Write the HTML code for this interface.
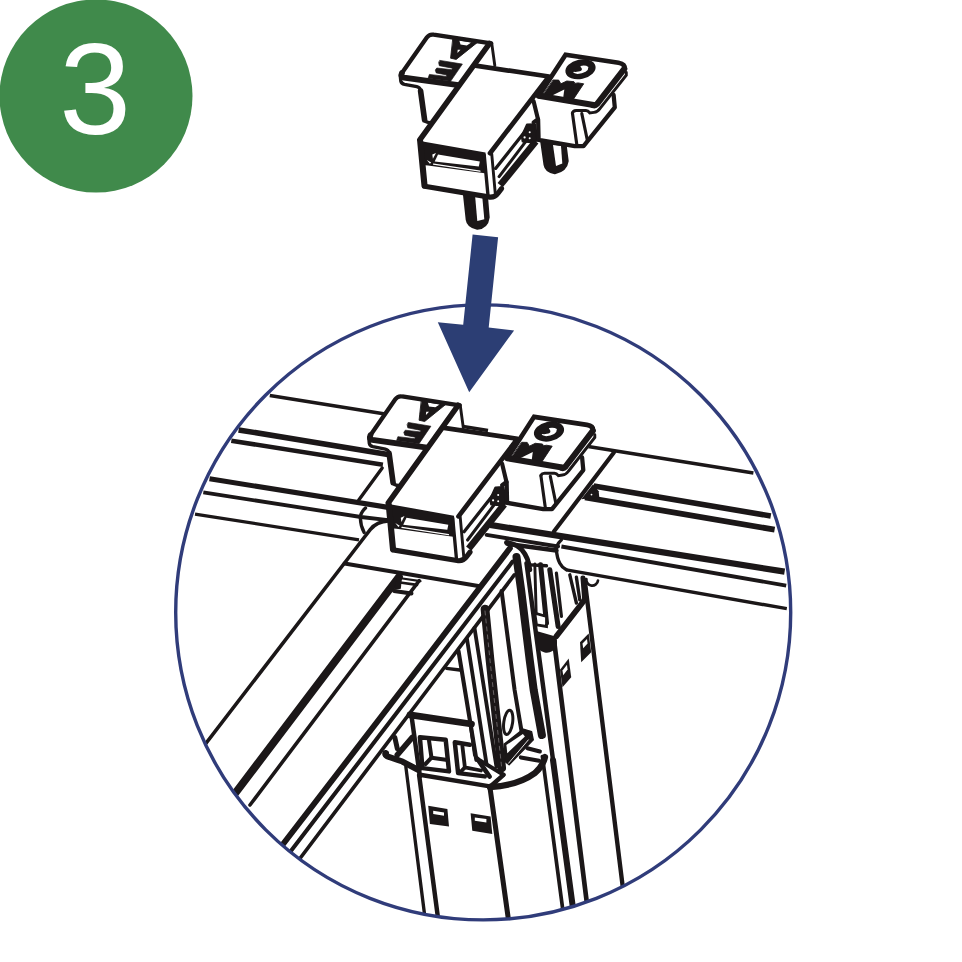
<!DOCTYPE html>
<html><head><meta charset="utf-8"><style>
html,body{margin:0;padding:0;background:#fff}
body{width:962px;height:962px;overflow:hidden;font-family:"Liberation Sans",sans-serif}
svg{display:block}
</style></head><body>
<svg width="962" height="962" viewBox="0 0 962 962" stroke-linecap="round">
<defs>
<clipPath id="cc"><circle cx="483.2" cy="612.4" r="306.8"/></clipPath>
</defs>
<rect width="962" height="962" fill="#fff"/>
<circle cx="96" cy="96" r="96.5" fill="#408a4b"/>
<text x="95" y="134.3" style="font-family:'Liberation Sans',sans-serif" font-size="129" fill="#fff" text-anchor="middle">3</text>
<g clip-path="url(#cc)">
<polyline points="269.8,395.6 488.0,430.5" fill="none" stroke="#1b1718" stroke-width="3.58" stroke-linecap="butt"/>
<polyline points="585.0,445.9 753.4,472.9" fill="none" stroke="#1b1718" stroke-width="3.58" stroke-linecap="butt"/>
<polyline points="238.6,429.9 389.5,454.7" fill="none" stroke="#1b1718" stroke-width="5.6" stroke-linecap="butt"/>
<polyline points="231.3,440.7 382.9,464.7" fill="none" stroke="#1b1718" stroke-width="4.48" stroke-linecap="butt"/>
<polyline points="209.5,478.8 389.5,507.6" fill="none" stroke="#1b1718" stroke-width="5.15" stroke-linecap="butt"/>
<polyline points="203.3,492.3 360.9,517.0 388.2,520.2" fill="none" stroke="#1b1718" stroke-width="3.81" stroke-linecap="butt"/>
<polyline points="195.0,514.1 359.0,539.9" fill="none" stroke="#1b1718" stroke-width="3.25" stroke-linecap="butt"/>
<polyline points="593.7,486.1 770.8,516.0" fill="none" stroke="#1b1718" stroke-width="5.6" stroke-linecap="butt"/>
<polyline points="585.0,497.3 774.6,529.7" fill="none" stroke="#1b1718" stroke-width="5.82" stroke-linecap="butt"/>
<polyline points="489.9,524.9 784.6,571.7" fill="none" stroke="#1b1718" stroke-width="6.27" stroke-linecap="butt"/>
<polyline points="561.4,546.5 786.2,585.6" fill="none" stroke="#1b1718" stroke-width="3.81" stroke-linecap="butt"/>
<polyline points="566.4,569.8 786.8,608.7" fill="none" stroke="#1b1718" stroke-width="3.36" stroke-linecap="butt"/>
<polygon points="581.2,499.3 593.1,484.3 598.7,491.2 599.3,497.5" fill="#1b1718" stroke="none" stroke-width="0.0" />
<circle cx="591.5" cy="494.6" r="0.9" fill="#fff"/>
<polyline points="613.9,452.4 553.9,531.6" fill="none" stroke="#1b1718" stroke-width="4.14" />
<polyline points="486.6,534.9 558.1,546.5" fill="none" stroke="#1b1718" stroke-width="3.81" />
<polyline points="507.4,543.9 556.4,550.5" fill="none" stroke="#1b1718" stroke-width="4.48" />
<path d="M561.4,539.9 Q556,545 556.4,549.9 Q557,558 559.8,563.2 Q562,567.5 566.4,569.8" fill="none" stroke="#1b1718" stroke-width="3.36" />
<path d="M586.4,579 A5.8,5.8 0 0 0 598,580.5" fill="none" stroke="#1b1718" stroke-width="2.69" />
<polyline points="382.2,468.0 358.6,500.2" fill="none" stroke="#1b1718" stroke-width="3.36" />
<path d="M365.5,508.1 Q360,513 360.4,518.5 Q360.6,526 364.1,532.4" fill="none" stroke="#1b1718" stroke-width="3.36" />
<path d="M388.5,520.9 Q376.8,521.5 370.2,529.6 L365.3,536 L199,752.3" fill="none" stroke="#1b1718" stroke-width="3.58" />
<polyline points="344.5,563.6 479.8,586.2" fill="none" stroke="#1b1718" stroke-width="4.03" />
<polyline points="398.9,577.0 232.0,797.5" fill="none" stroke="#1b1718" stroke-width="7.84" />
<polyline points="419.2,580.6 250.0,805.0" fill="none" stroke="#1b1718" stroke-width="3.58" />
<polyline points="399.0,578.0 420.5,581.2" fill="none" stroke="#1b1718" stroke-width="2.24" />
<polyline points="400.0,582.5 417.0,584.8" fill="none" stroke="#1b1718" stroke-width="2.69" />
<polygon points="397.0,577.0 402.0,578.0 400.8,588.7 394.0,590.0" fill="#1b1718" stroke="none" stroke-width="0.0" />
<polyline points="394.0,590.9 411.5,593.5" fill="none" stroke="#1b1718" stroke-width="4.03" />
<polyline points="509.9,548.3 401.7,690.0 270.8,860.0" fill="none" stroke="#1b1718" stroke-width="5.82" />
<polyline points="512.6,561.6 414.2,690.0 284.0,860.0" fill="none" stroke="#1b1718" stroke-width="4.03" />
<polyline points="514.3,574.9 427.3,690.0 298.8,860.0" fill="none" stroke="#1b1718" stroke-width="3.7" />
<path d="M506.5,542.5 Q517,544 522,550 Q528.5,557.5 529.8,569.8" fill="none" stroke="#1b1718" stroke-width="4.93" />
<polyline points="516.5,557.0 521.1,590.0 529.7,660.0 533.7,690.0 541.9,735.0" fill="none" stroke="#1b1718" stroke-width="8.06" stroke-linejoin="round"/>
<polyline points="526.5,563.3 554.4,770.0 572.3,903.1 574.0,916.0" fill="none" stroke="#1b1718" stroke-width="4.48" />
<polyline points="553.0,760.0 572.3,903.1 574.0,916.0" fill="none" stroke="#1b1718" stroke-width="6.05" />
<polyline points="542.4,756.5 563.5,915.0" fill="none" stroke="#1b1718" stroke-width="3.7" />
<polyline points="554.0,640.0 588.0,912.0" fill="none" stroke="#1b1718" stroke-width="4.7" />
<polyline points="584.7,579.9 625.0,905.0" fill="none" stroke="#1b1718" stroke-width="4.37" />
<polyline points="529.9,564.9 546.5,565.8" fill="none" stroke="#1b1718" stroke-width="3.36" />
<polyline points="534.8,564.0 536.5,624.7" fill="none" stroke="#1b1718" stroke-width="2.91" />
<polyline points="540.6,564.8 546.5,623.0" fill="none" stroke="#1b1718" stroke-width="5.04" />
<polyline points="549.8,569.8 558.1,626.4" fill="none" stroke="#1b1718" stroke-width="5.04" />
<polyline points="556.4,573.1 561.4,616.4" fill="none" stroke="#1b1718" stroke-width="3.25" />
<polyline points="569.8,574.8 576.4,603.0" fill="none" stroke="#1b1718" stroke-width="3.36" />
<polyline points="576.4,577.2 579.8,599.9" fill="none" stroke="#1b1718" stroke-width="3.36" />
<polyline points="583.0,578.0 584.7,599.8" fill="none" stroke="#1b1718" stroke-width="5.04" />
<polyline points="584.7,599.8 556.4,636.3" fill="none" stroke="#1b1718" stroke-width="5.6" />
<polygon points="534.8,613.2 546.5,616.5 546.5,626.5 536.5,624.8" fill="#fff" stroke="#1b1718" stroke-width="2.8" />
<path d="M536.5,631 L555.5,636.5 A9.5,9.5 0 0 1 538,648 Z" fill="#1b1718"/>
<polygon points="580.0,642.3 588.7,633.6 591.2,652.3 581.2,662.3" fill="#1b1718" stroke="none" stroke-width="0.0" />
<polygon points="582.5,643.5 587.0,639.0 587.6,643.5 583.2,648.2" fill="#fff" stroke="none" stroke-width="0.0" />
<polygon points="560.0,669.8 568.7,658.5 571.2,677.3 562.5,687.2" fill="#1b1718" stroke="none" stroke-width="0.0" />
<polygon points="562.5,670.5 567.0,664.8 567.6,669.5 563.2,675.2" fill="#fff" stroke="none" stroke-width="0.0" />
<polygon points="409.9,714.9 471.5,724.0 476.0,758.0 489.8,786.4 419.9,775.4" fill="#fff" stroke="none" stroke-width="0.0" />
<polyline points="409.9,714.9 471.5,724.0" fill="none" stroke="#1b1718" stroke-width="6.72" />
<polyline points="470.5,724.5 474.8,755.0" fill="none" stroke="#1b1718" stroke-width="3.58" />
<polyline points="411.6,716.5 419.9,776.4" fill="none" stroke="#1b1718" stroke-width="4.48" />
<polyline points="419.9,774.8 489.8,786.4" fill="none" stroke="#1b1718" stroke-width="4.48" />
<polygon points="419.9,737.3 445.7,739.8 449.0,771.4 422.4,768.1" fill="#fff" stroke="#1b1718" stroke-width="4.48" stroke-linejoin="round"/>
<polyline points="429.0,740.5 431.5,757.7 447.5,760.0" fill="none" stroke="#1b1718" stroke-width="4.03" />
<polyline points="431.5,757.7 425.5,764.0" fill="none" stroke="#1b1718" stroke-width="4.03" />
<polyline points="469.8,744.8 454.8,742.3 458.1,773.1 484.8,776.4" fill="none" stroke="#1b1718" stroke-width="4.48" stroke-linejoin="round"/>
<polyline points="462.4,746.2 464.9,767.4 481.0,770.5" fill="none" stroke="#1b1718" stroke-width="3.81" />
<polyline points="464.9,767.4 460.5,772.0" fill="none" stroke="#1b1718" stroke-width="3.81" />
<polyline points="458.5,651.0 476.4,759.8" fill="none" stroke="#1b1718" stroke-width="4.14" />
<polyline points="467.0,639.0 486.4,763.1" fill="none" stroke="#1b1718" stroke-width="3.81" />
<polyline points="474.5,628.0 496.4,766.4" fill="none" stroke="#1b1718" stroke-width="3.81" />
<polyline points="485.0,609.0 490.0,660.0 501.7,768.1" fill="none" stroke="#1b1718" stroke-width="8.74" />
<polyline points="485.0,611 490,660 501.5,766" fill="none" stroke="#6e696b" stroke-width="0.9" stroke-dasharray="4 4"/>
<polyline points="501.6,591.0 514.6,690.0 521.6,731.6" fill="none" stroke="#1b1718" stroke-width="4.03" />
<polyline points="446.5,668.3 459.8,670.0" fill="none" stroke="#1b1718" stroke-width="3.36" />
<polyline points="477.0,758.6 503.5,774.8" fill="none" stroke="#1b1718" stroke-width="4.03" />
<polyline points="477.5,759.0 489.5,776.5" fill="none" stroke="#1b1718" stroke-width="4.7" />
<polyline points="503.5,774.8 491.5,785.5" fill="none" stroke="#1b1718" stroke-width="4.48" />
<polyline points="405.8,766.4 425.0,918.0" fill="none" stroke="#1b1718" stroke-width="3.36" />
<polyline points="419.1,775.0 438.0,918.0" fill="none" stroke="#1b1718" stroke-width="4.48" />
<polyline points="489.8,786.4 508.5,920.0" fill="none" stroke="#1b1718" stroke-width="5.04" />
<polygon points="428.2,805.8 447.4,809.1 449.0,826.6 429.9,824.1" fill="#1b1718" stroke="none" stroke-width="0.0" />
<polygon points="433.2,810.7 444.0,812.4 444.0,815.7 433.2,814.1" fill="#fff" stroke="none" stroke-width="0.0" />
<polygon points="470.6,813.2 490.6,816.6 492.3,834.0 472.3,830.7" fill="#1b1718" stroke="none" stroke-width="0.0" />
<polygon points="474.8,817.4 486.4,819.1 486.4,822.4 474.8,820.7" fill="#fff" stroke="none" stroke-width="0.0" />
<path d="M385.6,753 Q385,756.3 389,757 L402.3,761.5 L418.5,770" fill="none" stroke="#1b1718" stroke-width="6.05" />
<circle cx="385.8" cy="754" r="3.4" fill="#1b1718"/>
<polyline points="394.8,737.4 397.3,748.6" fill="none" stroke="#1b1718" stroke-width="4.93" />
<polyline points="412.3,737.4 397.3,754.9" fill="none" stroke="#1b1718" stroke-width="5.6" />
<path d="M490,787 Q518,785.5 535,773 Q543,766 545,757" fill="none" stroke="#1b1718" stroke-width="6.27" />
<ellipse cx="508.2" cy="722.4" rx="4.4" ry="12.2" transform="rotate(8 508.2 722.4)" fill="#fff" stroke="#1b1718" stroke-width="3"/>
<polygon points="504.2,744.1 523.3,729.1 531.6,731.6 533.3,739.9 509.1,764.8 505.0,761.5" fill="#1b1718" stroke="#1b1718" stroke-width="1.34" stroke-linejoin="round"/>
<polygon points="506.4,745.0 522.9,734.1 524.9,736.6 507.3,753.2" fill="#fff" stroke="none" stroke-width="0.0" />
<polyline points="508.6,763.2 528.3,739.9" fill="none" stroke="#fff" stroke-width="0.9"/>
<polyline points="527.4,748.2 539.9,751.5" fill="none" stroke="#1b1718" stroke-width="4.03" />
<polyline points="520.8,757.4 539.1,760.7" fill="none" stroke="#1b1718" stroke-width="4.03" />
<g transform="matrix(1 0 0 1.0114 -31.5 361.4)">
<polygon points="426.8,37.5 433.7,34.7 491.7,43.1 494.8,65.5 478.3,66.5 433.2,122.9 424.7,121.5 419.9,88.6 416.8,86.7 402.5,83.9 400.6,79.9 401.9,73.0" fill="#fff" stroke="none" stroke-width="0.0" />
<polygon points="478.3,66.5 549.0,76.5 490.0,153.2 419.3,140.3" fill="#fff" stroke="none" stroke-width="0.0" />
<polygon points="419.3,140.3 491.7,153.7 496.0,196.0 424.0,186.3" fill="#fff" stroke="none" stroke-width="0.0" />
<polygon points="491.7,153.7 549.0,76.5 538.0,119.3 538.6,139.9 497.5,195.0" fill="#fff" stroke="none" stroke-width="0.0" />
<polygon points="565.6,54.8 620.5,63.0 626.7,68.0 626.7,74.9 613.6,94.9 614.8,107.4 583.5,146.1 574.8,146.1 538.6,139.9 538.0,119.3 533.6,101.2 538.7,96.0" fill="#fff" stroke="none" stroke-width="0.0" />
<polygon points="453.1,38.9 476.8,42.9 456.2,59.4 450.6,58.2 451.2,52.6" fill="#1b1718" stroke="#1b1718" stroke-width="0.9" stroke-linejoin="round"/>
<polygon points="459.3,40.6 471.2,42.5 466.8,45.4 460.5,44.5" fill="#fff" stroke="none" stroke-width="0.0" />
<polygon points="457.7,49.8 460.5,49.8 457.4,52.9" fill="#fff" stroke="none" stroke-width="0.0" />
<polygon points="440.0,60.4 462.4,64.1 450.6,81.3 428.1,78.2 429.4,74.4 446.2,76.4 446.8,75.0 436.2,72.9 435.3,70.1 436.8,68.0 451.8,69.7 452.4,68.2 439.3,65.7 438.7,62.8" fill="#1b1718" stroke="#1b1718" stroke-width="0.67" stroke-linejoin="round"/>
<path d="M401.9,73 L426.8,37.5 Q429.5,33.8 433.7,34.7 L491.2,43.4" fill="none" stroke="#1b1718" stroke-width="4.26" />
<polyline points="491.7,43.1 494.8,65.5" fill="none" stroke="#1b1718" stroke-width="2.91" />
<polyline points="489.6,43.4 419.8,139.9" fill="none" stroke="#1b1718" stroke-width="5.49" />
<path d="M401.9,73 Q400.2,76.5 404,77.6 L458.5,85.2" fill="none" stroke="#1b1718" stroke-width="5.82" />
<path d="M400.3,76 L400.8,81 Q401.4,83.6 404.5,84.3 L416.8,86.7 Q420,87.4 420.4,90.2 L424.8,119.5 Q425.2,122 428,122.4 L431.5,122.9" fill="none" stroke="#1b1718" stroke-width="3.36" />
<polyline points="420.6,91.0 424.6,120.0" fill="none" stroke="#1b1718" stroke-width="5.6" />
<polyline points="475.5,65.7 549.0,76.5 490.0,153.2" fill="none" stroke="#1b1718" stroke-width="4.7" stroke-linejoin="round"/>
<polygon points="420.0,141.0 485.5,152.5 486.5,173.5 428.0,165.5 422.0,165.0" fill="#1b1718" stroke="none" stroke-width="0.0" />
<polygon points="438.0,154.6 479.8,161.4 478.8,166.4 434.7,161.4" fill="#fff" stroke="none" stroke-width="0.0" />
<polyline points="433.5,164.2 480,171.2" fill="none" stroke="#fff" stroke-width="1.2"/>
<polygon points="432.3,154.5 436.0,152.9 432.9,158.7" fill="#fff" stroke="none" stroke-width="0.0" />
<polygon points="426.8,159.9 431.2,162.4 429.9,163.7" fill="#fff" stroke="none" stroke-width="0.0" />
<polyline points="420.3,142.0 424.5,185.5" fill="none" stroke="#1b1718" stroke-width="6.16" />
<path d="M424.5,186.3 L488.5,196.9 Q494.5,198 498,193.2 L501.5,188.6" fill="none" stroke="#1b1718" stroke-width="5.15" />
<polyline points="491.7,153.7 495.4,194.8" fill="none" stroke="#1b1718" stroke-width="2.91" />
<polyline points="484.2,154.9 487.9,194.5" fill="none" stroke="#1b1718" stroke-width="3.36" />
<polyline points="529.7,125.6 495.6,168.4" fill="none" stroke="#1b1718" stroke-width="3.25" />
<polyline points="525.3,142.2 499.1,176.6" fill="none" stroke="#1b1718" stroke-width="3.02" />
<path d="M535.8,141.3 L500.2,185.2" fill="none" stroke="#1b1718" stroke-width="6.72" stroke-linecap="butt"/>
<polygon points="527.0,124.7 534.9,124.3 537.5,140.5 531.4,142.2 522.7,141.3 521.8,136.1" fill="#1b1718" stroke="#1b1718" stroke-width="2.24" stroke-linejoin="round"/>
<circle cx="529.7" cy="132.2" r="1.0" fill="#fff"/><circle cx="524.6" cy="137.4" r="1.1" fill="#fff"/><circle cx="529.7" cy="138.3" r="1.0" fill="#fff"/>
<polyline points="533.6,101.2 538.0,119.3 533.6,122.4" fill="none" stroke="#1b1718" stroke-width="4.14" stroke-linejoin="round"/>
<ellipse cx="580.5" cy="69.3" rx="15.3" ry="9.7" transform="rotate(-12 580.5 69.3)" fill="#1b1718"/>
<path d="M580.6,65.9 Q585.5,64.9 588.4,66.9 Q588.6,69.8 585.6,71.8 Q582,73.9 577.6,73.9 Q574.2,73.6 573.2,72.6 L573.8,71.8 Q576,72.2 578.3,71.6 Q582,71 581.9,69.0 Q581.8,67.7 580.6,66.9 Z" fill="#fff"/>
<polygon points="553.4,80.0 558.7,80.1 560.9,83.8 566.8,81.0 574.0,81.7 574.9,83.4 578.0,82.9 583.7,83.8 573.1,99.7 543.1,94.7" fill="#1b1718" stroke="#1b1718" stroke-width="0.9" stroke-linejoin="round"/>
<polygon points="551.6,95.8 563.2,97.8 564.3,89.6" fill="#fff" stroke="none" stroke-width="0.0" />
<path d="M538.7,96 L565.6,54.8 L618.5,62.8 Q625.3,64 624.6,68.8" fill="none" stroke="#1b1718" stroke-width="4.7" stroke-linejoin="miter"/>
<path d="M624.3,68.8 L597,104 Q595.2,106 593,105.2" fill="none" stroke="#1b1718" stroke-width="6.05" />
<polyline points="538.7,95.8 593.6,105.0" fill="none" stroke="#1b1718" stroke-width="6.05" />
<path d="M626.3,72.5 L626.3,75.2 L599.9,108.6 Q597.5,112 594,112.4 L589.9,113 Q588,110.5 586,110.5 L576.2,110.5 Q573,110.8 572.4,113" fill="none" stroke="#1b1718" stroke-width="2.91" />
<path d="M538.1,119.3 L538.6,139.9 L574.8,146.1 L583.5,146.1 L614.8,107.4 L613.6,94.9" fill="none" stroke="#1b1718" stroke-width="4.26" stroke-linejoin="round"/>
<polyline points="572.4,113.0 576.8,144.5" fill="none" stroke="#1b1718" stroke-width="3.14" />
<polyline points="581.8,113.6 587.4,140.5" fill="none" stroke="#1b1718" stroke-width="3.14" />
</g>
</g>
<circle cx="483.2" cy="612.4" r="307.5" fill="none" stroke="#303c7a" stroke-width="3.4"/>
<g>
<path d="M464.2,193 L467.1,219.8 Q468,226.5 477.3,228.3 Q487,227.5 488.3,217.3 L486.7,198 Z" fill="#1b1718" stroke="#1b1718" stroke-width="2.8" />
<polygon points="475.1,196.1 482.3,197.3 484.3,219.2 477.3,221.0" fill="#fff" stroke="none" stroke-width="0.0" />
<path d="M541.7,142.4 L544.9,164.8 Q546,171.5 554.8,172.9 Q566,170.5 567.3,161.1 L565.4,146.1 Z" fill="#1b1718" stroke="#1b1718" stroke-width="2.8" />
<polygon points="553.0,144.9 561.0,146.1 562.3,163.6 556.0,166.1" fill="#fff" stroke="none" stroke-width="0.0" />
<g>
<polygon points="426.8,37.5 433.7,34.7 491.7,43.1 494.8,65.5 478.3,66.5 433.2,122.9 424.7,121.5 419.9,88.6 416.8,86.7 402.5,83.9 400.6,79.9 401.9,73.0" fill="#fff" stroke="none" stroke-width="0.0" />
<polygon points="478.3,66.5 549.0,76.5 490.0,153.2 419.3,140.3" fill="#fff" stroke="none" stroke-width="0.0" />
<polygon points="419.3,140.3 491.7,153.7 496.0,196.0 424.0,186.3" fill="#fff" stroke="none" stroke-width="0.0" />
<polygon points="491.7,153.7 549.0,76.5 538.0,119.3 538.6,139.9 497.5,195.0" fill="#fff" stroke="none" stroke-width="0.0" />
<polygon points="565.6,54.8 620.5,63.0 626.7,68.0 626.7,74.9 613.6,94.9 614.8,107.4 583.5,146.1 574.8,146.1 538.6,139.9 538.0,119.3 533.6,101.2 538.7,96.0" fill="#fff" stroke="none" stroke-width="0.0" />
<polygon points="453.1,38.9 476.8,42.9 456.2,59.4 450.6,58.2 451.2,52.6" fill="#1b1718" stroke="#1b1718" stroke-width="0.9" stroke-linejoin="round"/>
<polygon points="459.3,40.6 471.2,42.5 466.8,45.4 460.5,44.5" fill="#fff" stroke="none" stroke-width="0.0" />
<polygon points="457.7,49.8 460.5,49.8 457.4,52.9" fill="#fff" stroke="none" stroke-width="0.0" />
<polygon points="440.0,60.4 462.4,64.1 450.6,81.3 428.1,78.2 429.4,74.4 446.2,76.4 446.8,75.0 436.2,72.9 435.3,70.1 436.8,68.0 451.8,69.7 452.4,68.2 439.3,65.7 438.7,62.8" fill="#1b1718" stroke="#1b1718" stroke-width="0.67" stroke-linejoin="round"/>
<path d="M401.9,73 L426.8,37.5 Q429.5,33.8 433.7,34.7 L491.2,43.4" fill="none" stroke="#1b1718" stroke-width="4.26" />
<polyline points="491.7,43.1 494.8,65.5" fill="none" stroke="#1b1718" stroke-width="2.91" />
<polyline points="489.6,43.4 419.8,139.9" fill="none" stroke="#1b1718" stroke-width="5.49" />
<path d="M401.9,73 Q400.2,76.5 404,77.6 L458.5,85.2" fill="none" stroke="#1b1718" stroke-width="5.82" />
<path d="M400.3,76 L400.8,81 Q401.4,83.6 404.5,84.3 L416.8,86.7 Q420,87.4 420.4,90.2 L424.8,119.5 Q425.2,122 428,122.4 L431.5,122.9" fill="none" stroke="#1b1718" stroke-width="3.36" />
<polyline points="420.6,91.0 424.6,120.0" fill="none" stroke="#1b1718" stroke-width="5.6" />
<polyline points="475.5,65.7 549.0,76.5 490.0,153.2" fill="none" stroke="#1b1718" stroke-width="4.7" stroke-linejoin="round"/>
<polygon points="420.0,141.0 485.5,152.5 486.5,173.5 428.0,165.5 422.0,165.0" fill="#1b1718" stroke="none" stroke-width="0.0" />
<polygon points="438.0,154.6 479.8,161.4 478.8,166.4 434.7,161.4" fill="#fff" stroke="none" stroke-width="0.0" />
<polyline points="433.5,164.2 480,171.2" fill="none" stroke="#fff" stroke-width="1.2"/>
<polygon points="432.3,154.5 436.0,152.9 432.9,158.7" fill="#fff" stroke="none" stroke-width="0.0" />
<polygon points="426.8,159.9 431.2,162.4 429.9,163.7" fill="#fff" stroke="none" stroke-width="0.0" />
<polyline points="420.3,142.0 424.5,185.5" fill="none" stroke="#1b1718" stroke-width="6.16" />
<path d="M424.5,186.3 L488.5,196.9 Q494.5,198 498,193.2 L501.5,188.6" fill="none" stroke="#1b1718" stroke-width="5.15" />
<polyline points="491.7,153.7 495.4,194.8" fill="none" stroke="#1b1718" stroke-width="2.91" />
<polyline points="484.2,154.9 487.9,194.5" fill="none" stroke="#1b1718" stroke-width="3.36" />
<polyline points="529.7,125.6 495.6,168.4" fill="none" stroke="#1b1718" stroke-width="3.25" />
<polyline points="525.3,142.2 499.1,176.6" fill="none" stroke="#1b1718" stroke-width="3.02" />
<path d="M535.8,141.3 L500.2,185.2" fill="none" stroke="#1b1718" stroke-width="6.72" stroke-linecap="butt"/>
<polygon points="527.0,124.7 534.9,124.3 537.5,140.5 531.4,142.2 522.7,141.3 521.8,136.1" fill="#1b1718" stroke="#1b1718" stroke-width="2.24" stroke-linejoin="round"/>
<circle cx="529.7" cy="132.2" r="1.0" fill="#fff"/><circle cx="524.6" cy="137.4" r="1.1" fill="#fff"/><circle cx="529.7" cy="138.3" r="1.0" fill="#fff"/>
<polyline points="533.6,101.2 538.0,119.3 533.6,122.4" fill="none" stroke="#1b1718" stroke-width="4.14" stroke-linejoin="round"/>
<ellipse cx="580.5" cy="69.3" rx="15.3" ry="9.7" transform="rotate(-12 580.5 69.3)" fill="#1b1718"/>
<path d="M580.6,65.9 Q585.5,64.9 588.4,66.9 Q588.6,69.8 585.6,71.8 Q582,73.9 577.6,73.9 Q574.2,73.6 573.2,72.6 L573.8,71.8 Q576,72.2 578.3,71.6 Q582,71 581.9,69.0 Q581.8,67.7 580.6,66.9 Z" fill="#fff"/>
<polygon points="553.4,80.0 558.7,80.1 560.9,83.8 566.8,81.0 574.0,81.7 574.9,83.4 578.0,82.9 583.7,83.8 573.1,99.7 543.1,94.7" fill="#1b1718" stroke="#1b1718" stroke-width="0.9" stroke-linejoin="round"/>
<polygon points="551.6,95.8 563.2,97.8 564.3,89.6" fill="#fff" stroke="none" stroke-width="0.0" />
<path d="M538.7,96 L565.6,54.8 L618.5,62.8 Q625.3,64 624.6,68.8" fill="none" stroke="#1b1718" stroke-width="4.7" stroke-linejoin="miter"/>
<path d="M624.3,68.8 L597,104 Q595.2,106 593,105.2" fill="none" stroke="#1b1718" stroke-width="6.05" />
<polyline points="538.7,95.8 593.6,105.0" fill="none" stroke="#1b1718" stroke-width="6.05" />
<path d="M626.3,72.5 L626.3,75.2 L599.9,108.6 Q597.5,112 594,112.4 L589.9,113 Q588,110.5 586,110.5 L576.2,110.5 Q573,110.8 572.4,113" fill="none" stroke="#1b1718" stroke-width="2.91" />
<path d="M538.1,119.3 L538.6,139.9 L574.8,146.1 L583.5,146.1 L614.8,107.4 L613.6,94.9" fill="none" stroke="#1b1718" stroke-width="4.26" stroke-linejoin="round"/>
<polyline points="572.4,113.0 576.8,144.5" fill="none" stroke="#1b1718" stroke-width="3.14" />
<polyline points="581.8,113.6 587.4,140.5" fill="none" stroke="#1b1718" stroke-width="3.14" />
</g>
</g>
<polygon points="472.6,234.6 498.1,237.2 488.7,327.6 514.1,330.4 469.2,392.2 437.8,322.2 463.2,324.8" fill="#2c3e74"/>
</svg>
</body></html>
